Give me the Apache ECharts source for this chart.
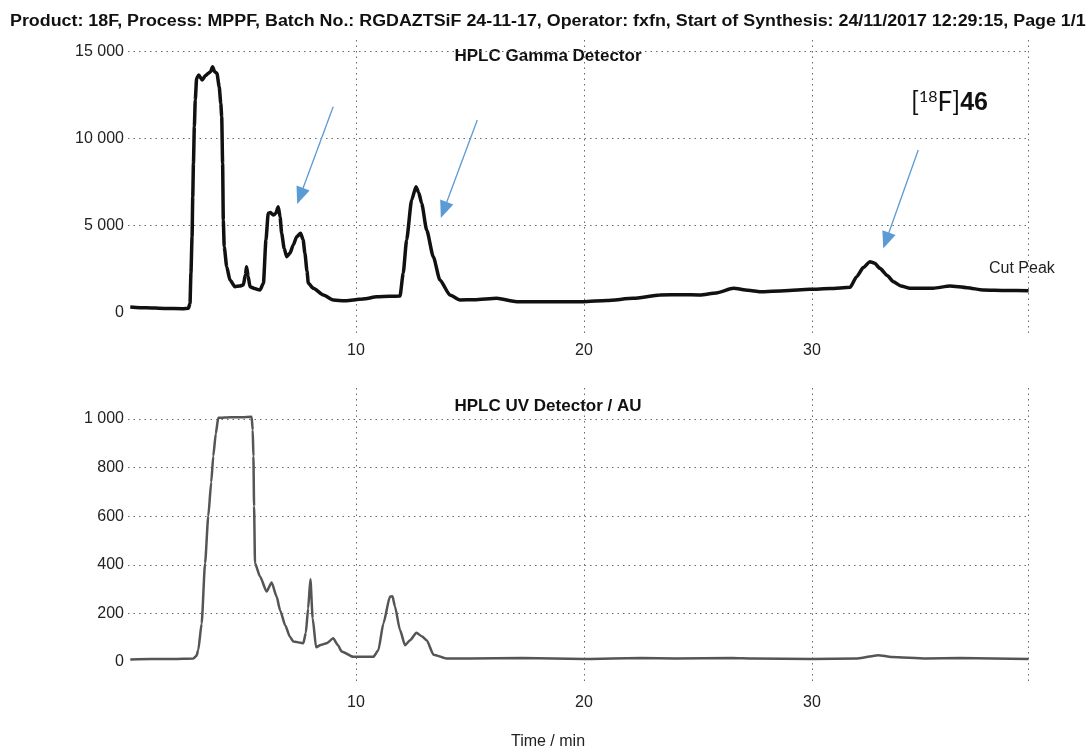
<!DOCTYPE html>
<html><head><meta charset="utf-8">
<script src="https://cdn.jsdelivr.net/npm/echarts@6/dist/echarts.min.js"></script>
<style>html,body{margin:0;padding:0;background:#fff}#c{width:1088px;height:748px}</style>
</head><body><div id="c"></div>
<script>
// ---- data ----
const gammaTime = [0.1, 0.8, 1.6, 2.4, 2.65, 2.72, 2.76, 2.81, 2.84, 2.87, 2.91, 2.95, 3.01, 3.1, 3.25, 3.4, 3.52, 3.62, 3.71, 3.8, 3.9, 4.0, 4.07, 4.11, 4.15, 4.18, 4.22, 4.33, 4.47, 4.69, 4.9, 5.06, 5.15, 5.2, 5.27, 5.35, 5.55, 5.79, 5.94, 6.05, 6.15, 6.25, 6.37, 6.48, 6.59, 6.67, 6.74, 6.85, 6.96, 7.1, 7.25, 7.4, 7.57, 7.68, 7.76, 7.85, 7.91, 8.13, 8.57, 9.0, 9.5, 9.88, 10.4, 10.9, 11.5, 11.93, 12.07, 12.22, 12.44, 12.63, 12.75, 12.88, 13.1, 13.39, 13.68, 14.12, 14.56, 15.2, 16.17, 17.05, 18.5, 19.97, 21.0, 22.16, 23.33, 24.3, 25.09, 25.8, 26.55, 27.2, 27.72, 28.8, 29.9, 30.8, 31.67, 31.96, 32.25, 32.54, 32.75, 32.98, 33.3, 33.57, 33.9, 34.3, 35.32, 36.05, 36.8, 37.51, 38.5, 39.5];
const gammaValue = [350, 300, 260, 250, 270, 555, 2272, 4372, 6662, 8573, 10668, 12200, 13440, 13630, 13345, 13600, 13727, 13820, 14110, 13820, 13727, 12960, 12000, 11243, 8573, 5326, 3797, 2652, 1890, 1508, 1550, 1603, 2200, 2650, 2100, 1508, 1400, 1317, 1700, 4180, 5710, 5750, 5612, 5700, 6088, 5500, 4563, 3700, 3225, 3417, 3900, 4372, 4563, 4200, 3417, 2400, 1700, 1413, 1031, 745, 700, 745, 820, 935, 960, 973, 2272, 4180, 6471, 7234, 6900, 6280, 4753, 3225, 1890, 1031, 745, 760, 840, 650, 650, 650, 720, 840, 1031, 1050, 1031, 1150, 1413, 1300, 1222, 1280, 1355, 1400, 1470, 2080, 2600, 2940, 2850, 2558, 2150, 1795, 1550, 1413, 1420, 1546, 1450, 1317, 1290, 1280];

const uvTime = [0.1, 1.0, 2.0, 2.87, 3.0, 3.08, 3.23, 3.38, 3.52, 3.65, 3.74, 3.85, 3.96, 4.5, 5.0, 5.42, 5.47, 5.5, 5.53, 5.57, 5.79, 6.08, 6.3, 6.52, 6.67, 6.9, 7.1, 7.25, 7.69, 7.8, 7.9, 8.0, 8.1, 8.25, 8.45, 8.71, 9.0, 9.2, 9.37, 9.88, 10.76, 10.98, 11.2, 11.49, 11.6, 11.71, 11.93, 12.15, 12.37, 12.65, 12.9, 13.1, 13.4, 14.0, 15.0, 17.3, 20.0, 22.5, 24.0, 26.5, 27.4, 30.0, 32.0, 32.9, 33.5, 35.0, 36.5, 39.5];
const uvValue = [10, 12, 12, 14, 25, 48, 158, 406, 600, 740, 847, 940, 1005, 1008, 1008, 1010, 955, 847, 641, 406, 352, 290, 327, 269, 213, 150, 104, 84, 77, 120, 220, 340, 180, 60, 70, 77, 97, 70, 43, 21, 21, 48, 158, 269, 270, 228, 131, 69, 89, 120, 105, 89, 30, 14, 14, 16, 12, 16, 14, 16, 14, 12, 14, 28, 20, 14, 16, 12];

const xTickLabels = [10, 20, 30];
const gammaTickLabels = [0, 5000, 10000, 15000];
const uvTickLabels = [0, 200, 400, 600, 800, 1000];

// arrow annotations in data coordinates [fromX, fromY, toX, toY]
const arrows = [[9.0, 11815, 7.55, 6700], [15.32, 11053, 13.85, 5900], [34.66, 9335, 33.25, 4150]];

const headerText = 'Product: 18F, Process: MPPF, Batch No.: RGDAZTSiF 24-11-17, Operator: fxfn, Start of Synthesis: 24/11/2017 12:29:15, Page 1/1';

// ---- chart ----
const FONT = '"Liberation Sans", Arial, sans-serif';
const fmt = v => String(v).replace(/\B(?=(\d{3})+(?!\d))/g, ' ');
const gridLine = { show: true, lineStyle: { color: '#6a6a6a', type: [1.5, 4], width: 1 } };

function xAxis(idx) {
  return {
    type: 'value', gridIndex: idx, min: 0, max: 39.5,
    axisLine: { show: false },
    axisTick: { show: false, customValues: [10, 20, 30, 39.5] },
    axisLabel: { customValues: xTickLabels, fontSize: 16, color: '#222', fontFamily: FONT, margin: 10 },
    splitLine: gridLine
  };
}
function yAxis(idx, min, max, ticks, lines) {
  return {
    type: 'value', gridIndex: idx, min: min, max: max,
    axisLine: { show: false },
    axisTick: { show: false, customValues: lines },
    axisLabel: { customValues: ticks, fontSize: 16, color: '#222', fontFamily: FONT, margin: 4, formatter: fmt },
    splitLine: gridLine
  };
}

const chart = echarts.init(document.getElementById('c'), null, { renderer: 'canvas' });
chart.setOption({
  animation: false,
  backgroundColor: '#fff',
  grid: [
    { left: 128, top: 40, width: 900.6, height: 293 },
    { left: 128, top: 388, width: 900.6, height: 297 }
  ],
  xAxis: [xAxis(0), xAxis(1)],
  yAxis: [
    yAxis(0, -1145, 15636, gammaTickLabels, [5000, 10000, 15000]),
    yAxis(1, -95, 1128, uvTickLabels, [200, 400, 600, 800, 1000])
  ],
  series: [
    {
      name: 'HPLC Gamma Detector', type: 'line', xAxisIndex: 0, yAxisIndex: 0,
      data: gammaTime.map((t, i) => [t, gammaValue[i]]),
      showSymbol: false, smooth: 0.2, smoothMonotone: 'x',
      lineStyle: { color: '#111', width: 3.5 },
      markLine: {
        silent: true, symbol: ['none', 'triangle'], symbolSize: [14, 17],
        label: { show: false },
        lineStyle: { color: '#5b9bd5', width: 1.3, type: 'solid' },
        data: arrows.map(a => [{ coord: [a[0], a[1]] }, { coord: [a[2], a[3]] }])
      }
    },
    {
      name: 'HPLC UV Detector / AU', type: 'line', xAxisIndex: 1, yAxisIndex: 1,
      data: uvTime.map((t, i) => [t, uvValue[i]]),
      showSymbol: false, smooth: 0.2, smoothMonotone: 'x',
      lineStyle: { color: '#555', width: 2.5 }
    }
  ],
  graphic: [
    { type: 'text', x: 10, y: 22, scaleX: 1.116, style: { text: headerText, font: 'bold 16px ' + FONT, fill: '#111', verticalAlign: 'middle' } },
    { type: 'text', x: 548, y: 56, style: { text: 'HPLC Gamma Detector', font: 'bold 17px ' + FONT, fill: '#111', align: 'center', verticalAlign: 'middle' } },
    { type: 'text', x: 548, y: 406, style: { text: 'HPLC UV Detector / AU', font: 'bold 17px ' + FONT, fill: '#111', align: 'center', verticalAlign: 'middle' } },
    { type: 'text', x: 989, y: 269, style: { text: 'Cut Peak', font: '16px ' + FONT, fill: '#222', verticalAlign: 'middle' } },
    { type: 'text', x: 548, y: 742, style: { text: 'Time / min', font: '16px ' + FONT, fill: '#222', align: 'center', verticalAlign: 'middle' } },
    { type: 'text', x: 911, y: 103, style: {
        text: '{n|[}{s|18}{n|F]}{b|46}', verticalAlign: 'middle',
        rich: {
          n: { fontSize: 26, fontFamily: 'Lato, "Open Sans", sans-serif', fill: '#111', height: 30 },
          s: { fontSize: 16, fontFamily: 'Lato, "Open Sans", sans-serif', fill: '#111', verticalAlign: 'top', height: 30, padding: [0, 0, 12, 0] },
          b: { fontSize: 25, fontWeight: 'bold', fontFamily: '"Liberation Sans", Arial, sans-serif', fill: '#111', height: 30 }
        }
      } }
  ]
});
</script>
</body></html>
